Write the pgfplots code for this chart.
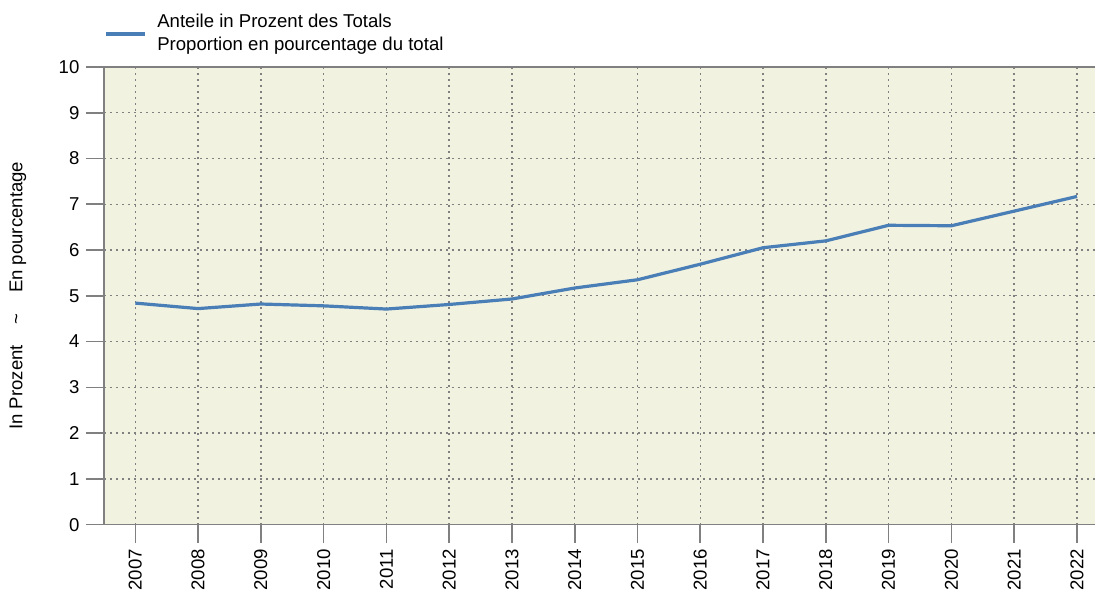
\documentclass[border=0pt]{standalone}
\usepackage{pgfplots}
\pgfplotsset{compat=1.18}
\usepackage{fontspec}
\setmainfont{Liberation Sans}
\definecolor{bgc}{RGB}{242,242,224}
\definecolor{linec}{RGB}{74,126,183}
\definecolor{axc}{RGB}{128,128,128}
\begin{document}
\fontsize{9.3}{11.5}\selectfont
\begin{tikzpicture}
\begin{axis}[
  at={(0,0)}, anchor=south west,
  scale only axis,
  width=496pt, height=229pt,
  xmin=2006.5, xmax=2022.29,
  ymin=0, ymax=10,
  xtick={2007,...,2022},
  ytick={0,1,...,10},
  axis background/.style={fill=bgc},
  axis x line*=bottom,
  axis y line*=left,
  axis line style={axc, line width=0.8pt, -},
  tick style={axc, line width=0.8pt},
  tick align=outside,
  major tick length=9pt,
  grid=major,
  major grid style={axc, line width=0.7pt, dash pattern=on 1pt off 2pt},
  /pgf/number format/assume math mode=true,
  xticklabel style={rotate=90, anchor=east, /pgf/number format/1000 sep={}, font=\fontsize{9.3}{11}\selectfont},
  yticklabel style={font=\fontsize{9.3}{11}\selectfont},
  ylabel={In Prozent \ \ \ \textasciitilde\ \ \ \ En pourcentage},
  ylabel style={at={(axis description cs:-0.0867,0.5)}, anchor=center, font=\fontsize{9.3}{11}\selectfont},
  legend style={at={(axis description cs:0,1.0873)}, anchor=west, draw=none, fill=none, inner sep=0pt, font=\fontsize{9.3}{11.5}\selectfont},
  legend cell align=left,
  legend image code/.code={\draw[#1, line width=2pt] (0pt,-3.5pt) -- (19.5pt,-3.5pt);},
]
\draw[axc, line width=0.8pt] (rel axis cs:0,1) -- (rel axis cs:1,1);
\addplot[linec, line width=1.6pt, no marks] coordinates {
(2007,4.84) (2008,4.72) (2009,4.82) (2010,4.78) (2011,4.71) (2012,4.81)
(2013,4.93) (2014,5.17) (2015,5.35) (2016,5.69) (2017,6.05) (2018,6.20)
(2019,6.54) (2020,6.53) (2021,6.85) (2022,7.17)
};
\addlegendentry{\begin{tabular}{@{\hspace{3pt}}l@{}}Anteile in Prozent des Totals\\Proportion en pourcentage du total\end{tabular}}
\end{axis}
\useasboundingbox (-52pt,-32.5pt) rectangle (496pt,262.5pt);
\end{tikzpicture}
\end{document}
